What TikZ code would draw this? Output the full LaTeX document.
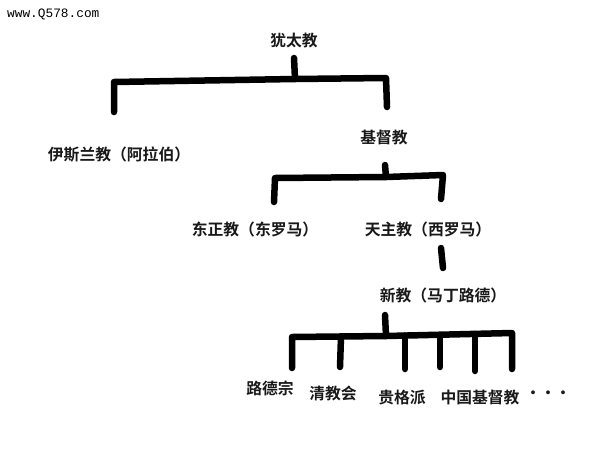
\documentclass[tikz,border=0pt]{standalone}
\usepackage{fontspec}
\newfontfamily\cjk{Noto Sans CJK SC Bold}
\newfontfamily\wm{Liberation Mono}
\begin{document}
\begin{tikzpicture}[x=1pt,y=-1pt,
  lbl/.style={font=\cjk\fontsize{15.8}{18}\selectfont, inner sep=0pt, text=black!90},
  br/.style={line width=6.5pt, line cap=round, line join=round, black}]
\useasboundingbox (0,0) rectangle (593,450);
\node[font=\wm\fontsize{12.8}{12}\selectfont, anchor=west, inner sep=0pt] (wm) at (7,14) {www.Q578.com};
% labels
\node[lbl] (judaism) at (294,41) {犹太教};
\node[lbl] (islam) at (119,155) {伊斯兰教（阿拉伯）};
\node[lbl] (christ) at (384,138) {基督教};
\node[lbl] (orth) at (255,229) {东正教（东罗马）};
\node[lbl] (cath) at (428,229) {天主教（西罗马）};
\node[lbl] (prot) at (443,295) {新教（马丁路德）};
\node[lbl] (luth) at (270,388) {路德宗};
\node[lbl] (puri) at (333,393) {清教会};
\node[lbl] (quak) at (402,398) {贵格派};
\node[lbl] (china) at (480,398) {中国基督教};
\node[lbl, font=\cjk\fontsize{15}{15}\selectfont] (dots) at (548,395) {···};
% bracket 1
\coordinate (j1) at (294,58);
\coordinate (j2) at (295,79);
\coordinate (jl) at (114,82);
\coordinate (jr) at (386,78);
\coordinate (jle) at (114,112);
\coordinate (jre) at (387,107);
\draw[br] (j1) -- (j2);
\draw[br] (jle) -- (jl) -- (j2) -- (jr) -- (jre);
% bracket 2
\coordinate (c1) at (385,165);
\coordinate (c2) at (386,177);
\coordinate (cl) at (275,178);
\coordinate (cr) at (443,175);
\coordinate (cle) at (274,202);
\coordinate (cre) at (441,199);
\draw[br] (c1) -- (c2);
\draw[br] (cle) -- (cl) -- (c2) -- (cr) -- (cre);
% catholic -> protestant
\coordinate (p1) at (441,248);
\coordinate (p2) at (443,268);
\draw[br] (p1) -- (p2);
% bracket 3
\coordinate (s1) at (385,315);
\coordinate (s2) at (386,336);
\coordinate (sl) at (292,337);
\coordinate (sr) at (512,333);
\draw[br] (s1) -- (s2);
\draw[br] (292,368) -- (sl) -- (s2) -- (sr) -- (512,369);
\draw[br] (341,336.5) -- (340,367);
\draw[br] (405,335.5) -- (405,369);
\draw[br] (440,335) -- (440,367);
\draw[br] (475,334) -- (475,371);
\end{tikzpicture}
\end{document}
